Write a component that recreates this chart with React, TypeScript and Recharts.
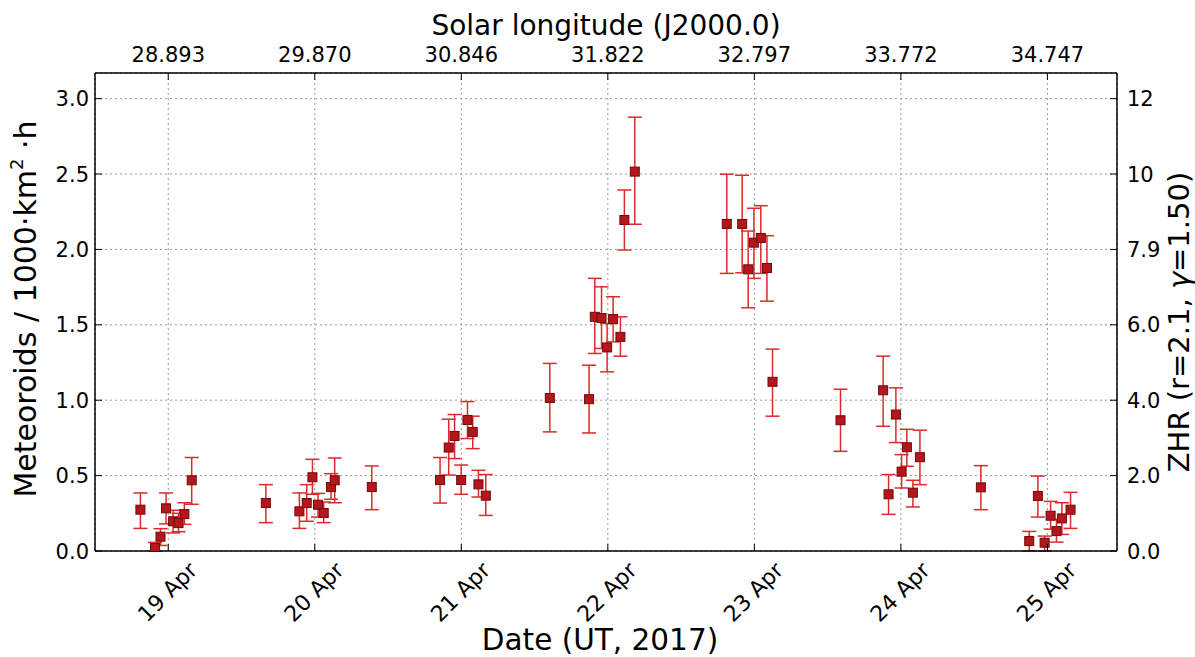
import React from 'react';
import { ScatterChart, Scatter, XAxis, YAxis, CartesianGrid, ErrorBar, Label } from 'recharts';

// Date (day of April 2017, UT, fractional)
const dates = [
  18.81, 18.91, 18.947, 18.985, 19.033, 19.07, 19.11, 19.16,
  19.666, 19.895, 19.945, 19.984, 20.022, 20.061, 20.111, 20.136,
  20.389, 20.855, 20.914, 20.954, 20.999, 21.042, 21.078, 21.117, 21.167,
  21.604, 21.872, 21.911, 21.957, 21.995, 22.036, 22.086, 22.113, 22.184,
  22.812, 22.917, 22.958, 22.997, 23.044, 23.086, 23.124,
  23.588, 23.879, 23.916, 23.966, 24.005, 24.041, 24.082, 24.13,
  24.546, 24.876, 24.935, 24.981, 25.022, 25.062, 25.099, 25.158,
];
// Flux (meteoroids / 1000 km^2 h)
const flux = [
  0.274, 0.02, 0.095, 0.283, 0.197, 0.185, 0.245, 0.469,
  0.318, 0.263, 0.318, 0.489, 0.307, 0.252, 0.424, 0.469,
  0.424, 0.471, 0.686, 0.763, 0.471, 0.869, 0.79, 0.442, 0.367,
  1.015, 1.007, 1.553, 1.545, 1.35, 1.538, 1.42, 2.195, 2.516,
  2.169, 2.169, 1.868, 2.045, 2.076, 1.877, 1.122,
  0.867, 1.066, 0.376, 0.905, 0.526, 0.688, 0.387, 0.622,
  0.422, 0.066, 0.365, 0.055, 0.234, 0.132, 0.216, 0.274,
];
const upper = [
  0.385, 0.057, 0.148, 0.385, 0.27, 0.25, 0.32, 0.62,
  0.44, 0.385, 0.44, 0.608, 0.382, 0.325, 0.513, 0.617,
  0.564, 0.62, 0.874, 0.905, 0.57, 0.991, 0.894, 0.535, 0.507,
  1.244, 1.232, 1.808, 1.752, 1.509, 1.686, 1.553, 2.394, 2.877,
  2.499, 2.492, 2.122, 2.273, 2.29, 2.091, 1.339,
  1.073, 1.292, 0.507, 1.082, 0.639, 0.807, 0.469, 0.801,
  0.566, 0.13, 0.497, 0.099, 0.329, 0.21, 0.32, 0.389,
];
const lower = [
  0.15, 0.0, 0.037, 0.18, 0.12, 0.128, 0.177, 0.31,
  0.188, 0.15, 0.197, 0.376, 0.225, 0.188, 0.343, 0.32,
  0.274, 0.318, 0.504, 0.613, 0.376, 0.746, 0.679, 0.358, 0.236,
  0.79, 0.783, 1.31, 1.343, 1.188, 1.387, 1.292, 1.996, 2.167,
  1.841, 1.845, 1.613, 1.808, 1.841, 1.657, 0.894,
  0.661, 0.827, 0.243, 0.719, 0.418, 0.562, 0.292, 0.44,
  0.274, 0.0, 0.225, 0.0, 0.145, 0.059, 0.11, 0.15,
];

const dateTicks = [19, 20, 21, 22, 23, 24, 25];
const dateLabels = ['19 Apr', '20 Apr', '21 Apr', '22 Apr', '23 Apr', '24 Apr', '25 Apr'];
const solarLabels = ['28.893', '29.870', '30.846', '31.822', '32.797', '33.772', '34.747'];
const fluxTicks = [0, 0.5, 1.0, 1.5, 2.0, 2.5, 3.0];
const fluxLabels = ['0.0', '0.5', '1.0', '1.5', '2.0', '2.5', '3.0'];
const zhrLabels = ['0.0', '2.0', '4.0', '6.0', '7.9', '10', '12'];

const data = dates.map((d, i) => ({
  x: d,
  y: flux[i],
  err: [flux[i] - lower[i], upper[i] - flux[i]],
}));

const FONT = '"DejaVu Sans", sans-serif';
const TICK_FS = 21;

const BottomTick = (props: any) => {
  const { x, y, payload } = props;
  const idx = dateTicks.indexOf(payload.value);
  return (
    <g>
      <line x1={x} x2={x} y1={y} y2={y - 7} stroke="#000" strokeWidth={1} />
      <text
        x={0}
        y={0}
        transform={`translate(${x - 1},${y + 41}) rotate(-45)`}
        textAnchor="middle"
        dy="0.35em"
        fontSize={22}
        fontFamily={FONT}
        fill="#000"
      >
        {idx >= 0 ? dateLabels[idx] : ''}
      </text>
    </g>
  );
};

const TopTick = (props: any) => {
  const { x, y, payload } = props;
  const idx = dateTicks.indexOf(payload.value);
  return (
    <g>
      <line x1={x} x2={x} y1={y} y2={y + 7} stroke="#000" strokeWidth={1} />
      <text x={x} y={y - 11} textAnchor="middle" fontSize={TICK_FS} fontFamily={FONT} fill="#000">
        {idx >= 0 ? solarLabels[idx] : ''}
      </text>
    </g>
  );
};

const LeftTick = (props: any) => {
  const { x, y, payload } = props;
  const idx = fluxTicks.indexOf(payload.value);
  return (
    <g>
      <line x1={x} x2={x + 7} y1={y} y2={y} stroke="#000" strokeWidth={1} />
      <text x={x - 6} y={y} dy="0.36em" textAnchor="end" fontSize={TICK_FS} fontFamily={FONT} fill="#000">
        {idx >= 0 ? fluxLabels[idx] : ''}
      </text>
    </g>
  );
};

const RightTick = (props: any) => {
  const { x, y, payload } = props;
  const idx = fluxTicks.indexOf(payload.value);
  return (
    <g>
      <line x1={x} x2={x - 7} y1={y} y2={y} stroke="#000" strokeWidth={1} />
      <text x={x + 10} y={y} dy="0.36em" textAnchor="start" fontSize={TICK_FS} fontFamily={FONT} fill="#000">
        {idx >= 0 ? zhrLabels[idx] : ''}
      </text>
    </g>
  );
};

const Marker = (props: any) => {
  const { cx, cy } = props;
  if (cx == null || cy == null) return null;
  return <rect x={cx - 4.5} y={cy - 4.5} width={9} height={9} fill="#b3161c" stroke="#6e0a0a" strokeWidth={1} />;
};

const LeftTitle = () => (
  <text
    transform="translate(36,309) rotate(-90)"
    textAnchor="middle"
    fontSize={30}
    fontFamily={FONT}
    fill="#000"
  >
    Meteoroids / 1000·km
    <tspan fontSize={18} dy={-13}>2</tspan>
    <tspan dy={13}> ·h</tspan>
  </text>
);

const RightTitle = () => (
  <text
    transform="translate(1189,322) rotate(-90)"
    textAnchor="middle"
    fontSize={29}
    fontFamily={FONT}
    fill="#000"
  >
    ZHR (r=2.1, <tspan fontStyle="italic">γ</tspan>=1.50)
  </text>
);

const TopTitle = () => (
  <text x={606} y={35} textAnchor="middle" fontSize={28} fontFamily={FONT} fill="#000">
    Solar longitude (J2000.0)
  </text>
);

const BottomTitle = () => (
  <text x={600} y={650} textAnchor="middle" fontSize={29.5} fontFamily={FONT} fill="#000">
    Date (UT, 2017)
  </text>
);

export default function App() {
  return (
    <div style={{ position: 'absolute', left: 0, top: 0, width: 1195, height: 657, background: '#fff' }}>
      <ScatterChart
        width={1195}
        height={657}
        margin={{ top: 0, right: 0, bottom: 0, left: 0 }}
      >
        <CartesianGrid
          xAxisId="bottom"
          yAxisId="left"
          stroke="#999"
          strokeDasharray="2 3"
          strokeWidth={1}
        />
        <XAxis
          xAxisId="bottom"
          type="number"
          dataKey="x"
          domain={[18.5, 25.475]}
          ticks={dateTicks}
          orientation="bottom"
          height={106}
          tickSize={0}
          tickMargin={0}
          tick={<BottomTick />}
          tickLine={false}
          axisLine={{ stroke: '#000', strokeWidth: 1.5 }}
          allowDataOverflow
        >
          <Label content={<BottomTitle />} />
        </XAxis>
        <XAxis
          xAxisId="top"
          type="number"
          dataKey="x"
          domain={[18.5, 25.475]}
          ticks={dateTicks}
          orientation="top"
          height={73}
          tickSize={0}
          tickMargin={0}
          tick={<TopTick />}
          tickLine={false}
          axisLine={{ stroke: '#000', strokeWidth: 1.5 }}
          allowDataOverflow
        >
          <Label content={<TopTitle />} />
        </XAxis>
        <YAxis
          yAxisId="left"
          type="number"
          dataKey="y"
          domain={[0, 3.17]}
          ticks={fluxTicks}
          orientation="left"
          width={95}
          tickSize={0}
          tickMargin={0}
          tick={<LeftTick />}
          tickLine={false}
          axisLine={{ stroke: '#000', strokeWidth: 1.5 }}
          allowDataOverflow
        >
          <Label content={<LeftTitle />} />
        </YAxis>
        <YAxis
          yAxisId="right"
          type="number"
          dataKey="y"
          domain={[0, 3.17]}
          ticks={fluxTicks}
          orientation="right"
          width={78}
          tickSize={0}
          tickMargin={0}
          tick={<RightTick />}
          tickLine={false}
          axisLine={{ stroke: '#000', strokeWidth: 1.5 }}
          allowDataOverflow
        >
          <Label content={<RightTitle />} />
        </YAxis>
        <Scatter
          data={data}
          xAxisId="bottom"
          yAxisId="left"
          dataKey="y"
          isAnimationActive={false}
          shape={<Marker />}
        >
          <ErrorBar dataKey="err" direction="y" width={7} stroke="#dc2a2a" strokeWidth={1.5} />
        </Scatter>
      </ScatterChart>
    </div>
  );
}
